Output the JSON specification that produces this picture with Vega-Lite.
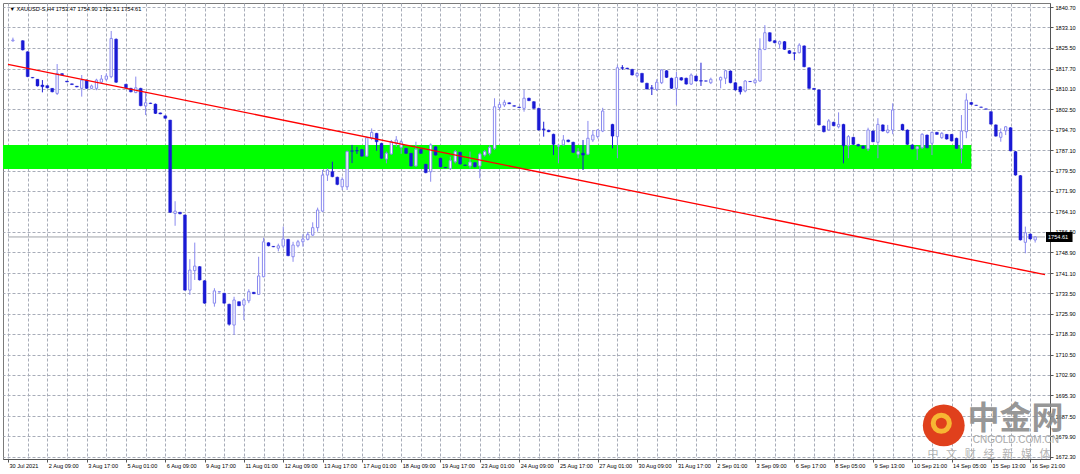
{
  "$schema": "https://vega.github.io/schema/vega-lite/v6.json",
  "width": 1047,
  "height": 456,
  "autosize": {"type": "none"},
  "padding": {"left": 3, "top": 3, "right": 30, "bottom": 15},
  "background": "white",
  "config": {"view": {"stroke": "#7a7a7a", "strokeWidth": 1}, "font": "Liberation Sans", "axis": {"labelOverlap": false}},
  "datasets": {
    "candles": [
      {"i":1,"o":1828.1,"h":1829.3,"l":1827.8,"c":1828.4},
      {"i":3,"o":1828.15,"h":1828.3,"l":1824.5,"c":1824.7},
      {"i":4,"o":1824.0,"h":1824.2,"l":1814.5,"c":1814.7},
      {"i":5,"o":1814.4,"h":1814.5,"l":1814.1,"c":1814.2},
      {"i":6,"o":1813.7,"h":1813.8,"l":1811.0,"c":1811.2},
      {"i":7,"o":1811.55,"h":1813.4,"l":1808.8,"c":1810.9},
      {"i":8,"o":1811.3,"h":1811.4,"l":1810.3,"c":1810.5},
      {"i":9,"o":1810.3,"h":1810.4,"l":1808.8,"c":1809.0},
      {"i":10,"o":1808.4,"h":1819.4,"l":1807.8,"c":1815.9},
      {"i":11,"o":1815.8,"h":1816.0,"l":1815.2,"c":1815.4},
      {"i":12,"o":1813.0,"h":1813.1,"l":1812.6,"c":1812.7},
      {"i":13,"o":1812.0,"h":1812.1,"l":1811.6,"c":1811.7},
      {"i":14,"o":1811.1,"h":1811.2,"l":1810.7,"c":1810.8},
      {"i":15,"o":1810.3,"h":1815.3,"l":1807.2,"c":1813.4},
      {"i":16,"o":1813.4,"h":1813.6,"l":1810.1,"c":1810.3},
      {"i":17,"o":1810.3,"h":1811.7,"l":1810.0,"c":1811.2},
      {"i":18,"o":1810.3,"h":1813.9,"l":1809.6,"c":1813.4},
      {"i":19,"o":1812.6,"h":1815.3,"l":1812.0,"c":1813.8},
      {"i":20,"o":1813.7,"h":1815.9,"l":1813.0,"c":1814.9},
      {"i":21,"o":1814.66,"h":1831.8,"l":1814.1,"c":1829.0},
      {"i":22,"o":1828.7,"h":1829.0,"l":1812.3,"c":1812.6},
      {"i":24,"o":1811.8,"h":1812.0,"l":1810.3,"c":1810.5},
      {"i":25,"o":1810.3,"h":1810.5,"l":1808.8,"c":1809.0},
      {"i":26,"o":1808.7,"h":1814.7,"l":1808.5,"c":1810.5},
      {"i":27,"o":1810.3,"h":1810.5,"l":1803.6,"c":1803.8},
      {"i":28,"o":1803.7,"h":1809.0,"l":1800.3,"c":1804.9},
      {"i":29,"o":1804.8,"h":1804.9,"l":1804.5,"c":1804.6},
      {"i":30,"o":1804.4,"h":1804.6,"l":1800.7,"c":1800.9},
      {"i":31,"o":1801.1,"h":1801.2,"l":1800.6,"c":1800.7},
      {"i":32,"o":1800.0,"h":1800.1,"l":1798.9,"c":1799.1},
      {"i":33,"o":1798.4,"h":1798.5,"l":1763.6,"c":1763.85},
      {"i":34,"o":1763.4,"h":1768.0,"l":1758.8,"c":1764.3},
      {"i":35,"o":1763.85,"h":1764.0,"l":1763.1,"c":1763.3},
      {"i":36,"o":1762.85,"h":1763.0,"l":1734.5,"c":1734.7},
      {"i":37,"o":1734.7,"h":1746.3,"l":1732.9,"c":1742.2},
      {"i":38,"o":1742.0,"h":1752.5,"l":1738.5,"c":1743.7},
      {"i":39,"o":1743.5,"h":1743.7,"l":1738.3,"c":1738.5},
      {"i":40,"o":1738.2,"h":1738.4,"l":1729.6,"c":1729.8},
      {"i":42,"o":1729.8,"h":1735.4,"l":1728.5,"c":1734.4},
      {"i":43,"o":1734.0,"h":1734.2,"l":1733.9,"c":1734.1},
      {"i":44,"o":1733.5,"h":1733.7,"l":1729.6,"c":1729.8},
      {"i":45,"o":1729.4,"h":1729.6,"l":1721.4,"c":1721.9},
      {"i":46,"o":1721.6,"h":1732.2,"l":1717.9,"c":1731.0},
      {"i":47,"o":1730.35,"h":1730.5,"l":1728.7,"c":1728.85},
      {"i":48,"o":1729.1,"h":1731.6,"l":1723.5,"c":1731.0},
      {"i":49,"o":1730.7,"h":1735.0,"l":1729.8,"c":1734.1},
      {"i":50,"o":1733.9,"h":1734.0,"l":1733.2,"c":1733.35},
      {"i":51,"o":1733.1,"h":1747.2,"l":1732.9,"c":1740.0},
      {"i":52,"o":1739.7,"h":1754.3,"l":1739.5,"c":1752.8},
      {"i":53,"o":1752.45,"h":1752.6,"l":1751.1,"c":1751.3},
      {"i":54,"o":1751.1,"h":1751.2,"l":1750.8,"c":1750.9},
      {"i":55,"o":1750.4,"h":1752.1,"l":1749.2,"c":1751.3},
      {"i":56,"o":1751.2,"h":1758.5,"l":1750.4,"c":1753.85},
      {"i":57,"o":1753.7,"h":1753.9,"l":1747.4,"c":1747.6},
      {"i":58,"o":1747.2,"h":1752.8,"l":1745.3,"c":1751.6},
      {"i":59,"o":1751.3,"h":1753.5,"l":1750.7,"c":1752.8},
      {"i":60,"o":1752.8,"h":1755.6,"l":1751.0,"c":1753.85},
      {"i":61,"o":1753.7,"h":1756.5,"l":1753.3,"c":1755.6},
      {"i":62,"o":1755.3,"h":1760.1,"l":1755.0,"c":1758.1},
      {"i":63,"o":1758.1,"h":1765.6,"l":1756.6,"c":1764.7},
      {"i":64,"o":1764.3,"h":1779.7,"l":1764.0,"c":1777.8},
      {"i":65,"o":1777.8,"h":1780.3,"l":1775.6,"c":1779.7},
      {"i":66,"o":1779.1,"h":1782.8,"l":1777.0,"c":1777.2},
      {"i":67,"o":1777.0,"h":1777.2,"l":1774.0,"c":1774.3},
      {"i":68,"o":1773.4,"h":1777.0,"l":1772.2,"c":1776.2},
      {"i":69,"o":1773.4,"h":1787.0,"l":1772.2,"c":1786.6},
      {"i":70,"o":1786.9,"h":1789.1,"l":1782.3,"c":1786.7},
      {"i":71,"o":1787.0,"h":1788.4,"l":1785.7,"c":1786.8},
      {"i":72,"o":1787.4,"h":1787.6,"l":1784.7,"c":1784.9},
      {"i":73,"o":1784.9,"h":1792.2,"l":1784.7,"c":1791.8},
      {"i":74,"o":1791.6,"h":1795.3,"l":1790.9,"c":1793.8},
      {"i":75,"o":1793.45,"h":1793.6,"l":1786.9,"c":1790.3},
      {"i":76,"o":1789.7,"h":1789.9,"l":1783.9,"c":1784.1},
      {"i":77,"o":1783.8,"h":1786.6,"l":1782.2,"c":1786.0},
      {"i":78,"o":1785.7,"h":1790.95,"l":1785.4,"c":1790.3},
      {"i":79,"o":1789.7,"h":1792.4,"l":1788.4,"c":1790.95},
      {"i":80,"o":1788.2,"h":1790.9,"l":1785.8,"c":1790.3},
      {"i":81,"o":1787.8,"h":1788.0,"l":1785.7,"c":1785.95},
      {"i":82,"o":1785.95,"h":1786.1,"l":1781.0,"c":1781.2},
      {"i":83,"o":1781.2,"h":1790.3,"l":1781.0,"c":1787.45},
      {"i":84,"o":1787.45,"h":1787.6,"l":1785.7,"c":1785.95},
      {"i":85,"o":1781.85,"h":1782.0,"l":1778.5,"c":1778.7},
      {"i":86,"o":1779.05,"h":1789.7,"l":1775.3,"c":1789.1},
      {"i":87,"o":1788.4,"h":1788.6,"l":1785.1,"c":1785.3},
      {"i":88,"o":1784.1,"h":1784.3,"l":1780.7,"c":1780.9},
      {"i":89,"o":1780.7,"h":1780.8,"l":1780.4,"c":1780.5},
      {"i":90,"o":1780.3,"h":1784.7,"l":1779.7,"c":1783.2},
      {"i":91,"o":1782.8,"h":1787.2,"l":1782.2,"c":1786.6},
      {"i":92,"o":1786.35,"h":1786.5,"l":1781.7,"c":1781.95},
      {"i":93,"o":1781.6,"h":1781.7,"l":1781.3,"c":1781.4},
      {"i":94,"o":1781.2,"h":1786.6,"l":1780.3,"c":1782.7},
      {"i":95,"o":1782.45,"h":1782.6,"l":1780.7,"c":1780.95},
      {"i":96,"o":1781.2,"h":1786.2,"l":1776.6,"c":1785.7},
      {"i":97,"o":1785.3,"h":1787.2,"l":1784.7,"c":1786.6},
      {"i":98,"o":1785.95,"h":1788.9,"l":1785.2,"c":1788.2},
      {"i":99,"o":1787.8,"h":1806.6,"l":1787.2,"c":1803.4},
      {"i":100,"o":1803.05,"h":1805.3,"l":1802.2,"c":1804.3},
      {"i":101,"o":1804.05,"h":1806.0,"l":1803.3,"c":1805.1},
      {"i":102,"o":1804.9,"h":1805.0,"l":1804.4,"c":1804.5},
      {"i":103,"o":1803.8,"h":1803.9,"l":1803.5,"c":1803.6},
      {"i":104,"o":1803.3,"h":1803.4,"l":1803.0,"c":1803.1},
      {"i":105,"o":1802.8,"h":1809.7,"l":1801.55,"c":1806.6},
      {"i":106,"o":1806.6,"h":1806.8,"l":1805.5,"c":1805.7},
      {"i":107,"o":1805.3,"h":1805.5,"l":1802.6,"c":1802.8},
      {"i":108,"o":1802.8,"h":1803.0,"l":1794.5,"c":1794.7},
      {"i":109,"o":1795.1,"h":1797.8,"l":1792.2,"c":1794.8},
      {"i":110,"o":1794.6,"h":1794.8,"l":1793.9,"c":1794.05},
      {"i":111,"o":1793.1,"h":1793.3,"l":1785.3,"c":1789.3},
      {"i":112,"o":1788.6,"h":1789.3,"l":1782.2,"c":1789.0},
      {"i":113,"o":1789.1,"h":1792.8,"l":1788.9,"c":1790.95},
      {"i":114,"o":1790.95,"h":1791.1,"l":1790.1,"c":1790.3},
      {"i":115,"o":1790.1,"h":1790.3,"l":1786.1,"c":1786.3},
      {"i":116,"o":1785.6,"h":1787.9,"l":1784.1,"c":1786.6},
      {"i":117,"o":1786.0,"h":1790.95,"l":1779.7,"c":1785.3},
      {"i":118,"o":1785.6,"h":1798.1,"l":1785.3,"c":1791.6},
      {"i":119,"o":1790.95,"h":1794.7,"l":1790.2,"c":1792.8},
      {"i":120,"o":1792.2,"h":1795.0,"l":1791.5,"c":1794.7},
      {"i":121,"o":1794.3,"h":1803.0,"l":1793.9,"c":1801.8},
      {"i":123,"o":1796.8,"h":1797.0,"l":1787.8,"c":1792.4},
      {"i":124,"o":1792.2,"h":1819.0,"l":1784.1,"c":1818.0},
      {"i":125,"o":1818.1,"h":1819.0,"l":1817.2,"c":1817.8},
      {"i":126,"o":1817.9,"h":1818.0,"l":1817.5,"c":1817.6},
      {"i":127,"o":1817.4,"h":1817.6,"l":1815.1,"c":1815.3},
      {"i":128,"o":1815.0,"h":1816.5,"l":1814.3,"c":1815.9},
      {"i":129,"o":1815.9,"h":1816.1,"l":1812.4,"c":1812.6},
      {"i":130,"o":1812.2,"h":1812.4,"l":1809.9,"c":1810.05},
      {"i":131,"o":1810.5,"h":1811.55,"l":1807.8,"c":1810.3},
      {"i":132,"o":1809.9,"h":1813.7,"l":1809.3,"c":1812.6},
      {"i":133,"o":1812.4,"h":1817.4,"l":1811.9,"c":1817.2},
      {"i":134,"o":1816.9,"h":1817.1,"l":1814.2,"c":1814.4},
      {"i":135,"o":1814.1,"h":1814.3,"l":1810.1,"c":1810.3},
      {"i":136,"o":1810.3,"h":1816.5,"l":1804.1,"c":1814.4},
      {"i":137,"o":1814.3,"h":1814.5,"l":1813.2,"c":1813.4},
      {"i":138,"o":1814.1,"h":1814.3,"l":1811.7,"c":1811.9},
      {"i":139,"o":1811.9,"h":1815.9,"l":1811.55,"c":1815.3},
      {"i":140,"o":1814.9,"h":1815.1,"l":1812.9,"c":1813.05},
      {"i":141,"o":1813.2,"h":1819.9,"l":1811.2,"c":1813.0},
      {"i":142,"o":1813.1,"h":1813.2,"l":1812.9,"c":1813.0},
      {"i":143,"o":1812.4,"h":1814.3,"l":1811.9,"c":1813.7},
      {"i":145,"o":1813.4,"h":1814.7,"l":1810.3,"c":1814.4},
      {"i":146,"o":1814.1,"h":1817.2,"l":1811.9,"c":1816.9},
      {"i":147,"o":1816.8,"h":1817.0,"l":1812.2,"c":1812.4},
      {"i":148,"o":1812.4,"h":1812.6,"l":1809.5,"c":1809.7},
      {"i":149,"o":1810.9,"h":1811.1,"l":1808.0,"c":1809.0},
      {"i":150,"o":1809.3,"h":1813.4,"l":1808.8,"c":1813.05},
      {"i":151,"o":1812.9,"h":1813.0,"l":1812.7,"c":1812.8},
      {"i":152,"o":1812.4,"h":1814.0,"l":1812.0,"c":1813.4},
      {"i":153,"o":1813.05,"h":1829.05,"l":1812.8,"c":1824.9},
      {"i":154,"o":1824.9,"h":1834.0,"l":1824.6,"c":1831.15},
      {"i":155,"o":1831.15,"h":1831.3,"l":1827.8,"c":1828.0},
      {"i":156,"o":1828.15,"h":1828.3,"l":1827.2,"c":1827.4},
      {"i":157,"o":1826.9,"h":1828.2,"l":1825.3,"c":1827.8},
      {"i":158,"o":1827.8,"h":1828.0,"l":1824.7,"c":1824.9},
      {"i":159,"o":1824.4,"h":1824.6,"l":1823.2,"c":1823.4},
      {"i":160,"o":1823.65,"h":1823.8,"l":1820.9,"c":1823.4},
      {"i":161,"o":1823.65,"h":1827.2,"l":1823.4,"c":1826.5},
      {"i":162,"o":1826.2,"h":1826.4,"l":1818.2,"c":1818.4},
      {"i":163,"o":1818.0,"h":1818.2,"l":1810.1,"c":1810.3},
      {"i":164,"o":1810.3,"h":1810.4,"l":1809.8,"c":1809.9},
      {"i":165,"o":1809.7,"h":1809.9,"l":1796.4,"c":1796.6},
      {"i":166,"o":1796.2,"h":1796.4,"l":1793.8,"c":1794.05},
      {"i":167,"o":1794.7,"h":1798.8,"l":1794.3,"c":1798.1},
      {"i":168,"o":1797.6,"h":1797.8,"l":1796.1,"c":1796.3},
      {"i":169,"o":1795.9,"h":1801.3,"l":1795.3,"c":1796.8},
      {"i":170,"o":1796.8,"h":1797.0,"l":1782.2,"c":1788.8},
      {"i":171,"o":1788.8,"h":1792.8,"l":1784.1,"c":1792.2},
      {"i":172,"o":1791.95,"h":1792.1,"l":1789.1,"c":1789.3},
      {"i":173,"o":1789.3,"h":1789.5,"l":1788.5,"c":1788.7},
      {"i":174,"o":1788.7,"h":1788.9,"l":1787.6,"c":1787.8},
      {"i":175,"o":1787.6,"h":1795.55,"l":1786.8,"c":1794.7},
      {"i":176,"o":1794.3,"h":1794.5,"l":1790.1,"c":1790.3},
      {"i":177,"o":1790.1,"h":1799.1,"l":1784.1,"c":1796.8},
      {"i":178,"o":1796.6,"h":1796.8,"l":1794.1,"c":1794.3},
      {"i":179,"o":1793.8,"h":1796.6,"l":1793.4,"c":1794.7},
      {"i":180,"o":1794.7,"h":1804.7,"l":1793.1,"c":1802.2},
      {"i":182,"o":1796.8,"h":1797.0,"l":1794.5,"c":1794.7},
      {"i":183,"o":1794.7,"h":1794.9,"l":1789.1,"c":1789.3},
      {"i":184,"o":1789.1,"h":1789.3,"l":1787.4,"c":1787.6},
      {"i":185,"o":1787.6,"h":1788.6,"l":1783.45,"c":1788.4},
      {"i":186,"o":1788.05,"h":1793.45,"l":1787.6,"c":1793.1},
      {"i":187,"o":1792.8,"h":1793.0,"l":1787.8,"c":1788.05},
      {"i":188,"o":1789.7,"h":1794.05,"l":1785.3,"c":1793.8},
      {"i":189,"o":1793.8,"h":1794.0,"l":1792.9,"c":1793.05},
      {"i":190,"o":1791.8,"h":1793.9,"l":1791.4,"c":1793.45},
      {"i":191,"o":1793.05,"h":1793.2,"l":1791.1,"c":1791.3},
      {"i":192,"o":1793.05,"h":1793.2,"l":1790.4,"c":1790.6},
      {"i":193,"o":1791.6,"h":1791.8,"l":1787.6,"c":1787.8},
      {"i":194,"o":1787.8,"h":1800.3,"l":1782.2,"c":1794.3},
      {"i":195,"o":1794.05,"h":1808.4,"l":1791.6,"c":1805.9},
      {"i":196,"o":1805.0,"h":1805.2,"l":1804.1,"c":1804.3},
      {"i":197,"o":1804.0,"h":1804.1,"l":1803.8,"c":1803.9},
      {"i":198,"o":1803.3,"h":1803.4,"l":1803.1,"c":1803.2},
      {"i":199,"o":1802.6,"h":1802.7,"l":1802.4,"c":1802.5},
      {"i":200,"o":1801.55,"h":1801.7,"l":1796.7,"c":1796.9},
      {"i":201,"o":1796.6,"h":1796.8,"l":1792.2,"c":1792.4},
      {"i":202,"o":1791.95,"h":1795.3,"l":1790.3,"c":1793.7},
      {"i":203,"o":1794.4,"h":1796.2,"l":1792.8,"c":1795.9},
      {"i":204,"o":1795.55,"h":1795.7,"l":1786.7,"c":1786.9},
      {"i":205,"o":1786.6,"h":1786.8,"l":1777.6,"c":1777.8},
      {"i":206,"o":1777.6,"h":1777.8,"l":1753.3,"c":1753.5},
      {"i":207,"o":1752.6,"h":1758.5,"l":1748.5,"c":1756.2},
      {"i":208,"o":1755.7,"h":1755.9,"l":1753.6,"c":1753.85},
      {"i":209,"o":1753.47,"h":1754.9,"l":1752.51,"c":1754.61}
    ]
  },
  "layer": [
    {
      "data": {"values": [{"i": -3, "i2": 196, "lo": 1780.1, "hi": 1789.07}]},
      "mark": {"type": "rect", "color": "#00ff00", "clip": true},
      "encoding": {
        "x": {"field": "i", "type": "quantitative", "title": null, "scale": {"domain": [0, 211], "nice": false, "zero": false},
          "axis": {"orient": "bottom", "title": null, "tickCount": 200,
            "values": [0,4,8,12,16,20,24,28,32,36,40,44,48,52,56,60,64,68,72,76,80,84,88,92,96,100,104,108,112,116,120,124,128,132,136,140,144,148,152,156,160,164,168,172,176,180,184,188,192,196,200,204,208],
            "labelExpr": "datum.value % 8 == 0 ? ['30 Jul 2021','2 Aug 09:00','3 Aug 17:00','5 Aug 01:00','6 Aug 09:00','9 Aug 17:00','11 Aug 01:00','12 Aug 09:00','13 Aug 17:00','17 Aug 01:00','18 Aug 09:00','19 Aug 17:00','23 Aug 01:00','24 Aug 09:00','25 Aug 17:00','27 Aug 01:00','30 Aug 09:00','31 Aug 17:00','2 Sep 01:00','3 Sep 09:00','6 Sep 17:00','8 Sep 05:00','9 Sep 13:00','10 Sep 21:00','14 Sep 05:00','15 Sep 13:00','16 Sep 21:00'][datum.value / 8] : ''",
            "grid": true, "gridColor": "#a8adb9", "gridDash": [3, 2], "gridWidth": 1,
            "domain": true, "domainColor": "#555555",
            "ticks": true, "tickSize": 3, "tickColor": "#555555",
            "tickOpacity": {"condition": {"test": "datum.value % 8 == 0", "value": 1}, "value": 0},
            "labelFont": "Liberation Sans", "labelFontSize": 5.6, "labelColor": "#000000",
            "labelAlign": "left", "labelBaseline": "top", "labelPadding": 1, "labelOffset": 1,
            "labelOverlap": false, "labelBound": false, "labelFlush": false}},
        "x2": {"field": "i2"},
        "y": {"field": "lo", "type": "quantitative", "title": null, "scale": {"domain": [1671.41, 1842.28], "nice": false, "zero": false},
          "axis": {"orient": "right", "title": null, "tickCount": 200,
            "values": [1672.3,1679.9,1687.5,1695.3,1702.9,1710.5,1718.3,1725.9,1733.5,1741.1,1748.9,1756.5,1764.1,1771.9,1779.5,1787.1,1794.7,1802.5,1810.1,1817.7,1825.5,1833.1,1840.7],
            "format": ".2f",
            "grid": true, "gridColor": "#a8adb9", "gridDash": [3, 2], "gridWidth": 1,
            "domain": true, "domainColor": "#555555",
            "ticks": true, "tickSize": 3, "tickColor": "#555555",
            "labelFont": "Liberation Sans", "labelFontSize": 5.6, "labelColor": "#000000",
            "labelAlign": "left", "labelBaseline": "middle", "labelPadding": 2,
            "labelOverlap": false, "labelBound": false, "labelFlush": false}},
        "y2": {"field": "hi"}
      }
    },
    {
      "data": {"values": [{"i": 0, "p": 1754.61}, {"i": 211, "p": 1754.61}]},
      "mark": {"type": "line", "color": "#a0a4aa", "strokeWidth": 1, "clip": true},
      "encoding": {
        "x": {"field": "i", "type": "quantitative", "title": null, "scale": {"domain": [0, 211], "nice": false, "zero": false}},
        "y": {"field": "p", "type": "quantitative", "title": null, "scale": {"domain": [1671.41, 1842.28], "nice": false, "zero": false}}
      }
    },
    {
      "data": {"name": "candles"},
      "transform": [{"filter": "datum.c >= datum.o"}],
      "mark": {"type": "rule", "color": "#8a8aef", "strokeWidth": 1, "clip": true},
      "encoding": {
        "x": {"field": "i", "type": "quantitative", "title": null, "scale": {"domain": [0, 211], "nice": false, "zero": false}},
        "y": {"field": "h", "type": "quantitative", "title": null, "scale": {"domain": [1671.41, 1842.28], "nice": false, "zero": false}},
        "y2": {"field": "l"}
      }
    },
    {
      "data": {"name": "candles"},
      "transform": [{"filter": "datum.c < datum.o"}],
      "mark": {"type": "rule", "color": "#1a1ad4", "strokeWidth": 1, "clip": true},
      "encoding": {
        "x": {"field": "i", "type": "quantitative", "title": null, "scale": {"domain": [0, 211], "nice": false, "zero": false}},
        "y": {"field": "h", "type": "quantitative", "title": null, "scale": {"domain": [1671.41, 1842.28], "nice": false, "zero": false}},
        "y2": {"field": "l"}
      }
    },
    {
      "data": {"name": "candles"},
      "transform": [{"filter": "datum.c >= datum.o"}],
      "mark": {"type": "bar", "orient": "vertical", "size": 2.3, "fill": "#ffffff", "stroke": "#8a8aef", "strokeWidth": 1, "clip": true},
      "encoding": {
        "x": {"field": "i", "type": "quantitative", "title": null, "scale": {"domain": [0, 211], "nice": false, "zero": false}},
        "y": {"field": "o", "type": "quantitative", "title": null, "scale": {"domain": [1671.41, 1842.28], "nice": false, "zero": false}},
        "y2": {"field": "c"}
      }
    },
    {
      "data": {"name": "candles"},
      "transform": [{"filter": "datum.c < datum.o"}],
      "mark": {"type": "bar", "orient": "vertical", "size": 3, "fill": "#1a1ad4", "stroke": "#1a1ad4", "strokeWidth": 0.4, "clip": true},
      "encoding": {
        "x": {"field": "i", "type": "quantitative", "title": null, "scale": {"domain": [0, 211], "nice": false, "zero": false}},
        "y": {"field": "o", "type": "quantitative", "title": null, "scale": {"domain": [1671.41, 1842.28], "nice": false, "zero": false}},
        "y2": {"field": "c"}
      }
    },
    {
      "data": {"values": [{"i": 0, "p": 1819.3}, {"i": 211, "p": 1740.5}]},
      "mark": {"type": "line", "color": "#ff0000", "strokeWidth": 1.4, "clip": true},
      "encoding": {
        "x": {"field": "i", "type": "quantitative", "title": null, "scale": {"domain": [0, 211], "nice": false, "zero": false}},
        "y": {"field": "p", "type": "quantitative", "title": null, "scale": {"domain": [1671.41, 1842.28], "nice": false, "zero": false}}
      }
    },
    {
      "data": {"values": [{"i": 190.4, "p": 1684.0}]},
      "mark": {"type": "point", "shape": "circle", "filled": true, "size": 1750, "color": "#e0401c", "opacity": 1},
      "encoding": {
        "x": {"field": "i", "type": "quantitative", "title": null, "scale": {"domain": [0, 211], "nice": false, "zero": false}},
        "y": {"field": "p", "type": "quantitative", "title": null, "scale": {"domain": [1671.41, 1842.28], "nice": false, "zero": false}}
      }
    },
    {
      "data": {"values": [{"i": 189.9, "p": 1684.8}]},
      "mark": {"type": "point", "shape": "circle", "filled": false, "size": 260, "stroke": "#f7b733", "strokeWidth": 5, "opacity": 1},
      "encoding": {
        "x": {"field": "i", "type": "quantitative", "title": null, "scale": {"domain": [0, 211], "nice": false, "zero": false}},
        "y": {"field": "p", "type": "quantitative", "title": null, "scale": {"domain": [1671.41, 1842.28], "nice": false, "zero": false}}
      }
    },
    {
      "data": {"values": [{"i": 205.0, "p": 1686.5, "t": "中金网"}]},
      "mark": {"type": "text", "font": "Noto Sans CJK SC", "fontSize": 32, "fontWeight": "bold", "color": "#8c8c8c", "opacity": 0.9, "align": "center", "baseline": "middle"},
      "encoding": {
        "x": {"field": "i", "type": "quantitative", "title": null, "scale": {"domain": [0, 211], "nice": false, "zero": false}},
        "y": {"field": "p", "type": "quantitative", "title": null, "scale": {"domain": [1671.41, 1842.28], "nice": false, "zero": false}},
        "text": {"field": "t"}
      }
    },
    {
      "data": {"values": [{"i": 205.06, "p": 1678.4, "t": "CNGOLD.COM.CN"}]},
      "mark": {"type": "text", "font": "Liberation Sans", "fontSize": 10, "color": "#a9a9a9", "align": "center", "baseline": "middle"},
      "encoding": {
        "x": {"field": "i", "type": "quantitative", "title": null, "scale": {"domain": [0, 211], "nice": false, "zero": false}},
        "y": {"field": "p", "type": "quantitative", "title": null, "scale": {"domain": [1671.41, 1842.28], "nice": false, "zero": false}},
        "text": {"field": "t"}
      }
    },
    {
      "data": {"values": [{"i": 199.6, "p": 1672.8, "t": "中\u2002\u2009文\u2002\u2009财\u2002\u2009经\u2002\u2009新\u2002\u2009媒\u2002\u2009体"}]},
      "mark": {"type": "text", "font": "Noto Sans CJK SC", "fontSize": 11, "color": "#b3b3b3", "align": "center", "baseline": "middle"},
      "encoding": {
        "x": {"field": "i", "type": "quantitative", "title": null, "scale": {"domain": [0, 211], "nice": false, "zero": false}},
        "y": {"field": "p", "type": "quantitative", "title": null, "scale": {"domain": [1671.41, 1842.28], "nice": false, "zero": false}},
        "text": {"field": "t"}
      }
    },
    {
      "data": {"values": [{"i": 0.3, "p": 1840.2, "t": "▼ XAUUSD-S,H4  1753.47 1754.90 1752.51 1754.61"}]},
      "mark": {"type": "text", "font": "Liberation Sans", "fontSize": 5.6, "color": "#000000", "align": "left", "baseline": "middle"},
      "encoding": {
        "x": {"field": "i", "type": "quantitative", "title": null, "scale": {"domain": [0, 211], "nice": false, "zero": false}},
        "y": {"field": "p", "type": "quantitative", "title": null, "scale": {"domain": [1671.41, 1842.28], "nice": false, "zero": false}},
        "text": {"field": "t"}
      }
    },
    {
      "data": {"values": [{"i": 211.2, "i2": 216.6, "lo": 1752.72, "hi": 1756.47}]},
      "mark": {"type": "rect", "color": "#000000"},
      "encoding": {
        "x": {"field": "i", "type": "quantitative", "title": null, "scale": {"domain": [0, 211], "nice": false, "zero": false}},
        "x2": {"field": "i2"},
        "y": {"field": "lo", "type": "quantitative", "title": null, "scale": {"domain": [1671.41, 1842.28], "nice": false, "zero": false}},
        "y2": {"field": "hi"}
      }
    },
    {
      "data": {"values": [{"i": 211.6, "p": 1754.61, "t": "1754.61"}]},
      "mark": {"type": "text", "font": "Liberation Sans", "fontSize": 5.6, "color": "#ffffff", "align": "left", "baseline": "middle"},
      "encoding": {
        "x": {"field": "i", "type": "quantitative", "title": null, "scale": {"domain": [0, 211], "nice": false, "zero": false}},
        "y": {"field": "p", "type": "quantitative", "title": null, "scale": {"domain": [1671.41, 1842.28], "nice": false, "zero": false}},
        "text": {"field": "t"}
      }
    }
  ]
}
